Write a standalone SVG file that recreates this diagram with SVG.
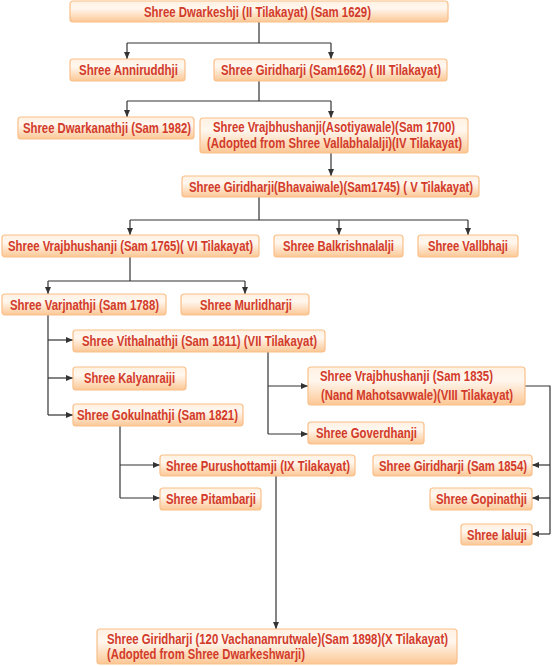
<svg xmlns="http://www.w3.org/2000/svg" width="552" height="666" viewBox="0 0 552 666">
<style>
.b{fill:url(#g);stroke:#f9bf88;stroke-width:1.2}
.t{font-family:"Liberation Sans",Arial,sans-serif;font-weight:bold;font-size:14px;fill:#d23b2b}
.c{fill:none;stroke:#333;stroke-width:1.2}
</style>
<defs>
<linearGradient id="g" x1="0" y1="0" x2="0" y2="1">
<stop offset="0" stop-color="#fff1e2"/>
<stop offset="0.35" stop-color="#fff7ef"/>
<stop offset="1" stop-color="#fcc794"/>
</linearGradient>
<marker id="a" markerUnits="userSpaceOnUse" markerWidth="8" markerHeight="8" viewBox="0 0 8 8" refX="7" refY="4" orient="auto">
<path d="M0,1 L7,4 L0,7 Z" fill="#333"/>
</marker>
</defs>
<rect width="552" height="666" fill="#fff"/>
<g id="connectors">
<path class="c" d="M259,22 V43 M127,43 H331"/>
<path class="c" d="M127,43 V59" marker-end="url(#a)"/>
<path class="c" d="M331,43 V59" marker-end="url(#a)"/>
<path class="c" d="M259,80 V101 M127,101 H331"/>
<path class="c" d="M127,101 V117" marker-end="url(#a)"/>
<path class="c" d="M331,101 V118" marker-end="url(#a)"/>
<path class="c" d="M331,153 V176" marker-end="url(#a)"/>
<path class="c" d="M259,197 V220 M130,220 H468"/>
<path class="c" d="M130,220 V235" marker-end="url(#a)"/>
<path class="c" d="M339,220 V235" marker-end="url(#a)"/>
<path class="c" d="M468,220 V235" marker-end="url(#a)"/>
<path class="c" d="M130,257 V281 M48,281 H245"/>
<path class="c" d="M48,281 V294" marker-end="url(#a)"/>
<path class="c" d="M245,281 V294" marker-end="url(#a)"/>
<path class="c" d="M48,315 V415"/>
<path class="c" d="M48,340 H73" marker-end="url(#a)"/>
<path class="c" d="M48,378 H73" marker-end="url(#a)"/>
<path class="c" d="M48,415 H73" marker-end="url(#a)"/>
<path class="c" d="M268,352 V434"/>
<path class="c" d="M268,386 H308" marker-end="url(#a)"/>
<path class="c" d="M268,434 H308" marker-end="url(#a)"/>
<path class="c" d="M525,386 H550 V534"/>
<path class="c" d="M550,465 H532" marker-end="url(#a)"/>
<path class="c" d="M550,498 H532" marker-end="url(#a)"/>
<path class="c" d="M550,534 H532" marker-end="url(#a)"/>
<path class="c" d="M120,426 V498"/>
<path class="c" d="M120,465 H160" marker-end="url(#a)"/>
<path class="c" d="M120,498 H160" marker-end="url(#a)"/>
<path class="c" d="M276,476 V629" marker-end="url(#a)"/>
</g>
<g id="n1"><rect class="b" x="70" y="1" width="378" height="21" rx="3"/><text class="t" x="144" y="16.5" textLength="227" lengthAdjust="spacingAndGlyphs">Shree Dwarkeshji (II Tilakayat) (Sam 1629)</text></g>
<g id="n2"><rect class="b" x="70" y="59" width="115" height="22" rx="3"/><text class="t" x="79" y="74.5" textLength="99" lengthAdjust="spacingAndGlyphs">Shree Anniruddhji</text></g>
<g id="n3"><rect class="b" x="214" y="59" width="233" height="22" rx="3"/><text class="t" x="221" y="74.5" textLength="220" lengthAdjust="spacingAndGlyphs">Shree Giridharji (Sam1662) ( III Tilakayat)</text></g>
<g id="n4"><rect class="b" x="18" y="117" width="176" height="22" rx="3"/><text class="t" x="23" y="132.5" textLength="168" lengthAdjust="spacingAndGlyphs">Shree Dwarkanathji (Sam 1982)</text></g>
<g id="n5"><rect class="b" x="200" y="118" width="268" height="35" rx="3"/><text class="t" x="213" y="132" textLength="242" lengthAdjust="spacingAndGlyphs">Shree Vrajbhushanji(Asotiyawale)(Sam 1700)</text><text class="t" x="207" y="148" textLength="255" lengthAdjust="spacingAndGlyphs">(Adopted from Shree Vallabhalalji)(IV Tilakayat)</text></g>
<g id="n6"><rect class="b" x="182" y="176" width="297" height="21" rx="3"/><text class="t" x="189" y="191.5" textLength="284" lengthAdjust="spacingAndGlyphs">Shree Giridharji(Bhavaiwale)(Sam1745) ( V Tilakayat)</text></g>
<g id="n7"><rect class="b" x="2" y="235" width="257" height="22" rx="3"/><text class="t" x="8" y="250.5" textLength="245" lengthAdjust="spacingAndGlyphs">Shree Vrajbhushanji (Sam 1765)( VI Tilakayat)</text></g>
<g id="n8"><rect class="b" x="274" y="235" width="129" height="22" rx="3"/><text class="t" x="283" y="250.5" textLength="111" lengthAdjust="spacingAndGlyphs">Shree Balkrishnalalji</text></g>
<g id="n9"><rect class="b" x="418" y="235" width="100" height="22" rx="3"/><text class="t" x="428" y="250.5" textLength="80" lengthAdjust="spacingAndGlyphs">Shree Vallbhaji</text></g>
<g id="n10"><rect class="b" x="2" y="294" width="164" height="21" rx="3"/><text class="t" x="10" y="309.5" textLength="149" lengthAdjust="spacingAndGlyphs">Shree Varjnathji (Sam 1788)</text></g>
<g id="n11"><rect class="b" x="181" y="294" width="128" height="21" rx="3"/><text class="t" x="200" y="309.5" textLength="92" lengthAdjust="spacingAndGlyphs">Shree Murlidharji</text></g>
<g id="n12"><rect class="b" x="73" y="330" width="252" height="22" rx="3"/><text class="t" x="82" y="345.5" textLength="235" lengthAdjust="spacingAndGlyphs">Shree Vithalnathji (Sam 1811) (VII Tilakayat)</text></g>
<g id="n13"><rect class="b" x="73" y="367" width="113" height="23" rx="3"/><text class="t" x="84" y="383" textLength="91" lengthAdjust="spacingAndGlyphs">Shree Kalyanraiji</text></g>
<g id="n14"><rect class="b" x="73" y="404" width="170" height="22" rx="3"/><text class="t" x="77" y="419.5" textLength="161" lengthAdjust="spacingAndGlyphs">Shree Gokulnathji (Sam 1821)</text></g>
<g id="n15"><rect class="b" x="308" y="367" width="217" height="38" rx="3"/><text class="t" x="320" y="381" textLength="173" lengthAdjust="spacingAndGlyphs">Shree Vrajbhushanji (Sam 1835)</text><text class="t" x="321" y="399.5" textLength="192" lengthAdjust="spacingAndGlyphs">(Nand Mahotsavwale)(VIII Tilakayat)</text></g>
<g id="n16"><rect class="b" x="308" y="422" width="116" height="22" rx="3"/><text class="t" x="316" y="437.5" textLength="101" lengthAdjust="spacingAndGlyphs">Shree Goverdhanji</text></g>
<g id="n17"><rect class="b" x="160" y="455" width="195" height="21" rx="3"/><text class="t" x="166" y="470.5" textLength="184" lengthAdjust="spacingAndGlyphs">Shree Purushottamji (IX Tilakayat)</text></g>
<g id="n18"><rect class="b" x="160" y="488" width="101" height="22" rx="3"/><text class="t" x="166" y="503.5" textLength="90" lengthAdjust="spacingAndGlyphs">Shree Pitambarji</text></g>
<g id="n19"><rect class="b" x="373" y="455" width="159" height="21" rx="3"/><text class="t" x="379" y="470.5" textLength="148" lengthAdjust="spacingAndGlyphs">Shree Giridharji (Sam 1854)</text></g>
<g id="n20"><rect class="b" x="430" y="488" width="102" height="22" rx="3"/><text class="t" x="436" y="503.5" textLength="91" lengthAdjust="spacingAndGlyphs">Shree Gopinathji</text></g>
<g id="n21"><rect class="b" x="461" y="524" width="71" height="21" rx="3"/><text class="t" x="467" y="539.5" textLength="60" lengthAdjust="spacingAndGlyphs">Shree laluji</text></g>
<g id="n22"><rect class="b" x="97" y="629" width="360" height="35" rx="3"/><text class="t" x="107" y="643.5" textLength="341" lengthAdjust="spacingAndGlyphs">Shree Giridharji (120 Vachanamrutwale)(Sam 1898)(X Tilakayat)</text><text class="t" x="107" y="659" textLength="198" lengthAdjust="spacingAndGlyphs">(Adopted from Shree Dwarkeshwarji)</text></g>
</svg>
